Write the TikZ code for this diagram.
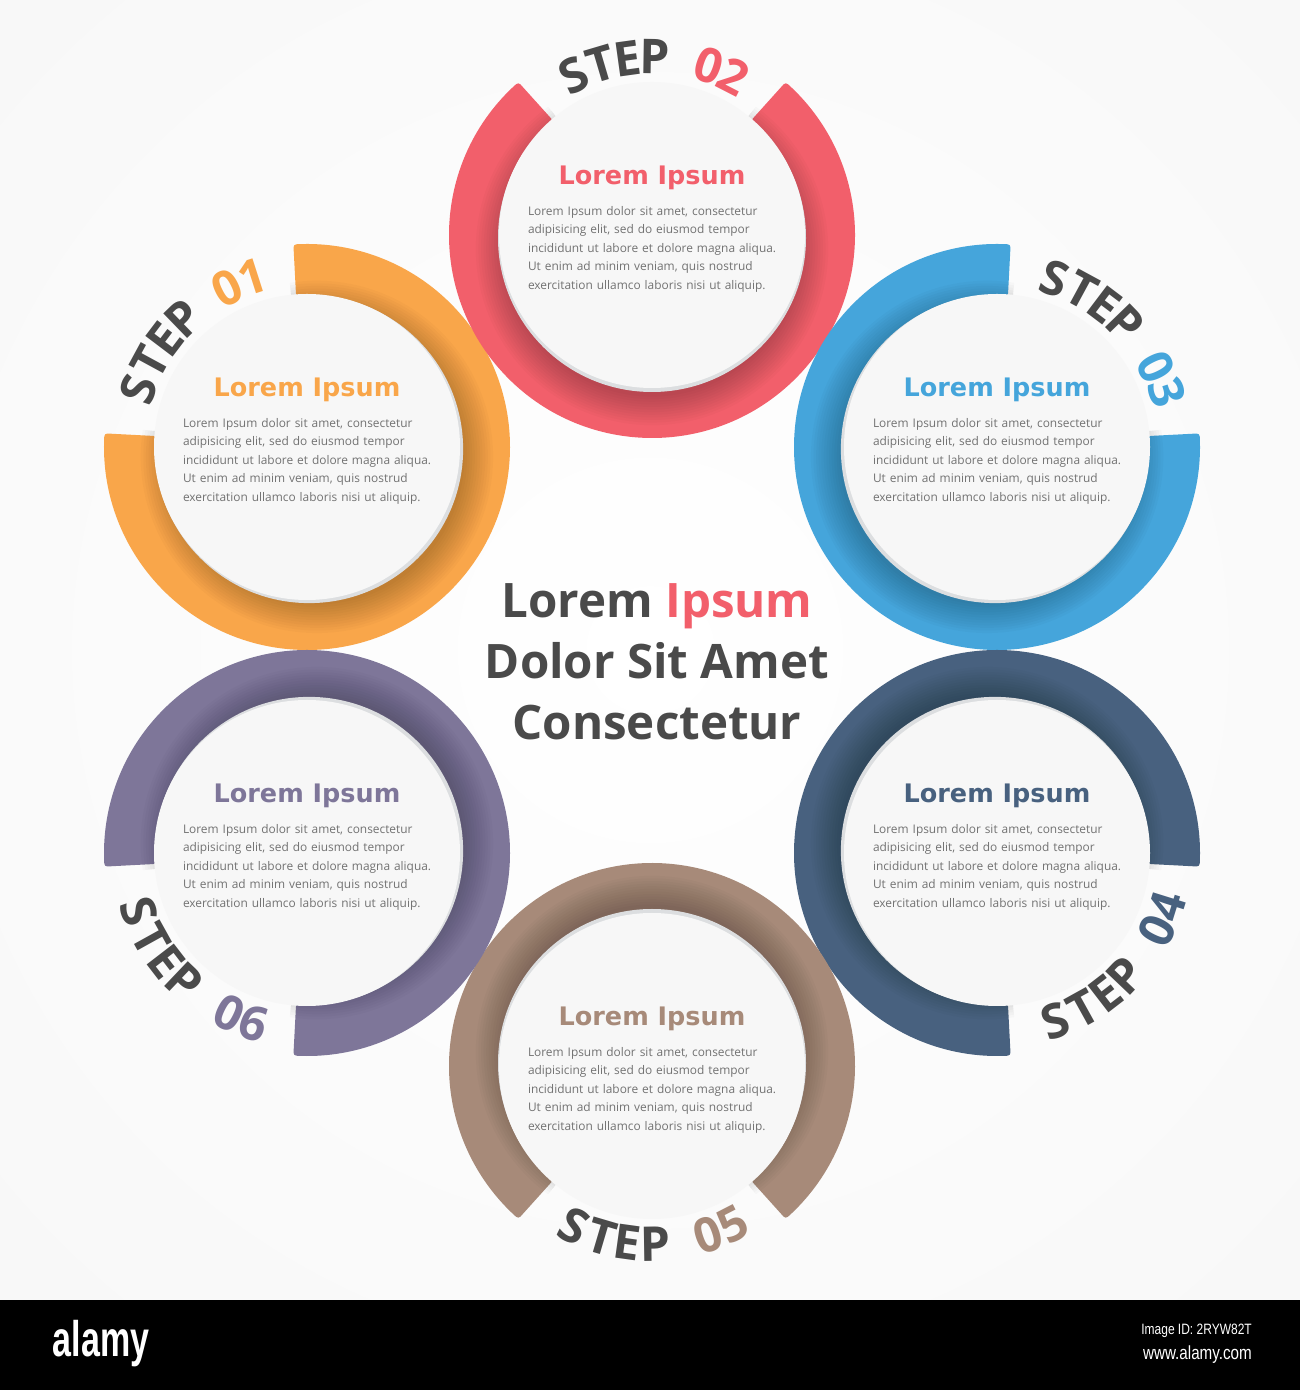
\documentclass[tikz,border=0pt]{standalone}
\usepackage{fontspec}
\usepackage{graphicx}
\setmainfont{Open Sans}
\newfontfamily\headfont{DejaVu Sans}
\newfontfamily\logofont{Liberation Sans}
\usetikzlibrary{calc}
\definecolor{cRed}{HTML}{F25F6B}
\definecolor{cOrange}{HTML}{F9A64A}
\definecolor{cBlue}{HTML}{45A5DB}
\definecolor{cNavy}{HTML}{48617F}
\definecolor{cBrown}{HTML}{A78A79}
\definecolor{cPurple}{HTML}{7E7699}
\definecolor{stepgray}{HTML}{4A4A4A}
\definecolor{bodygray}{HTML}{727272}
\definecolor{discwhite}{HTML}{F7F7F7}
\definecolor{rimgray}{HTML}{DCDEE0}
\definecolor{bgedge}{HTML}{F1F1F1}
\tikzset{
  ringband/.style={fill=#1, draw=#1, line width=6pt, line join=round},
  letterbox/.style={font=\fontsize{48}{48}\selectfont\bfseries, inner sep=0pt, anchor=center, text height=34pt, text depth=0pt},
  headbox/.style={font=\headfont\bfseries\fontsize{25.5}{25.5}\selectfont, inner sep=0pt},
  bodybox/.style={font=\fontsize{11.9}{18.5}\selectfont, text=bodygray, align=center, text width=248pt, inner sep=0pt},
  titlebox/.style={font=\fontsize{47.5}{61}\selectfont\bfseries, text=stepgray, align=center, inner sep=0pt},
}
\newcommand\bodylines{%
\makebox[248pt][s]{Lorem Ipsum dolor sit amet, consectetur}\\
\makebox[248pt][s]{adipisicing elit, sed do eiusmod tempor}\\
\makebox[248pt][s]{incididunt ut labore et dolore magna aliqua.}\\
\makebox[248pt][s]{Ut enim ad minim veniam, quis nostrud}\\
\makebox[248pt][s]{exercitation ullamco laboris nisi ut aliquip.}}
% #1 id, #2 cx, #3 cy, #4 colour, #5 gap centre, #6 label centre, #7 sign, #8 digit, #9 text shift
\newcommand\stepunit[9]{%
  \fill[ringband=#4] ([shift={(#2,#3)}]{#5+42}:200) arc[start angle={#5+42}, end angle={#5+318}, radius=200]
     -- ([shift={(#2,#3)}]{#5+318}:154) arc[start angle={#5+318}, end angle={#5+42}, radius=154] -- cycle;
  \begin{scope}
    \clip ([shift={(#2,#3)}]{#5+39}:204) arc[start angle={#5+39}, end angle={#5+321}, radius=204]
     -- ([shift={(#2,#3)}]{#5+321}:140) arc[start angle={#5+321}, end angle={#5+39}, radius=140] -- cycle;
    \foreach \k in {1,...,12}
      \fill[black, opacity=0.018] ([shift={(#2,#3)}]{#5+180}:14) circle[radius={145+2.6*\k}];
  \end{scope}
  \fill[rimgray] ([shift={(#2,#3)}]{#5+180}:3) circle[radius=154];
  \node[circle, fill=discwhite, minimum size=306pt, inner sep=0pt] (#1-disc) at (#2,#3) {};
  \foreach \ch/\o/\cl [count=\i] in {S/-26.7/stepgray, T/-17/stepgray, E/-8.4/stepgray, P/0.4/stepgray, 0/18/#4, #8/26.7/#4}{
    \pgfmathsetmacro\ang{#6+(#7)*(\o)}
    \pgfmathsetmacro\rot{\ang+(#7)*90}
    \node[letterbox, text=\cl, rotate=\rot] (#1-l\i) at ([shift={(#2,#3)}]\ang:178) {\ch};
  }
  \node[headbox, text=#4] (#1-head) at (#2, {#3+57-#9}) {Lorem Ipsum};
  \node[bodybox] (#1-body) at (#2, {#3-14-#9}) {\bodylines};
}
\begin{document}
\begin{tikzpicture}[x=1pt, y=1pt]
\useasboundingbox (0,0) rectangle (1300,1390);
\begin{scope}
  \clip (0,90) rectangle (1300,1390);
  \shade[inner color=white, outer color=bgedge] (650,740) circle[radius=1800];
\end{scope}
\stepunit{s01}{307}{943}{cOrange}{135}{134.5}{-1}{1}{0}
\stepunit{s02}{652}{1155}{cRed}{90}{89.5}{-1}{2}{0}
\stepunit{s03}{997}{943}{cBlue}{45}{44.5}{-1}{3}{0}
\stepunit{s04}{997}{537}{cNavy}{315}{316}{1}{4}{0}
\stepunit{s05}{652}{324}{cBrown}{270}{270.5}{1}{5}{10}
\stepunit{s06}{307}{537}{cPurple}{225}{226}{1}{6}{0}
\node[titlebox] (title) at (657,728) {Lorem \textcolor{cRed}{Ipsum}\\Dolor Sit Amet\\Consectetur};
\fill[black] (0,0) rectangle (1300,90);
\node[font=\logofont\bfseries\fontsize{50}{50}\selectfont, text=white, inner sep=0pt] (logo) at (101,46) {\scalebox{0.68}[1]{alamy}};
\node[anchor=east, font=\logofont\fontsize{15}{15}\selectfont, text=white, inner sep=0pt] (imgid) at (1252,59) {\scalebox{0.8}[1]{Image ID: 2RYW82T}};
\node[anchor=east, font=\logofont\fontsize{19}{19}\selectfont, text=white, inner sep=0pt] (www) at (1252,35) {\scalebox{0.8}[1]{www.alamy.com}};
\end{tikzpicture}
\end{document}
